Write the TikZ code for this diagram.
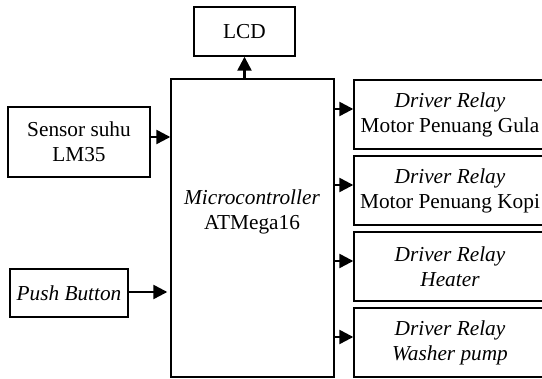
\documentclass[tikz,border=0pt]{standalone}
\usepackage{fontspec}
\setmainfont{Liberation Serif}
\usetikzlibrary{arrows.meta}
\begin{document}
\begin{tikzpicture}[x=1pt,y=-1pt,
  box/.style={draw,line width=1.4pt,rectangle,inner sep=0pt,align=center,
    font=\fontsize{21.3}{25}\selectfont},
  lbl/.style={inner sep=0pt,align=center,font=\fontsize{21.3}{25}\selectfont},
  arr/.style={line width=2.4pt,-{Triangle[length=14pt,width=14pt]}}]
\useasboundingbox (0,0) rectangle (542,379);
\clip (0,0) rectangle (542,379);
\node[box,minimum width=101pt,minimum height=49pt] (lcd) at (244.5,31.5) {LCD};
\node[box,minimum width=163pt,minimum height=298pt] (mcu) at (252.5,228) {};
\node[lbl] (mcutxt) at (252,212) {\textit{Microcontroller}\\ATMega16};
\node[box,minimum width=142pt,minimum height=70pt] (sensor) at (79,142) {Sensor suhu\\LM35};
\node[box,minimum width=118pt,minimum height=48pt] (push) at (69,293) {\textit{Push Button}};
\node[box,minimum width=192pt,minimum height=69pt] (r1) at (450,114.5) {\textit{Driver Relay}\\Motor Penuang Gula};
\node[box,minimum width=192pt,minimum height=69pt] (r2) at (450,190.5) {\textit{Driver Relay}\\Motor Penuang Kopi};
\node[box,minimum width=192pt,minimum height=69pt] (r3) at (450,266.5) {\textit{Driver Relay}\\\textit{Heater}};
\node[box,minimum width=192pt,minimum height=69pt] (r4) at (450,342.5) {\textit{Driver Relay}\\\textit{Washer pump}};
\draw[arr] (mcu.north -| lcd.south) -- (lcd.south);
\coordinate (s1) at ([yshift=5pt]sensor.east);
\draw[arr] (s1) -- (s1 -| mcu.west);
\coordinate (p1) at ([yshift=1pt]push.east);
\draw[arr] (p1) -- ([xshift=-3pt]p1 -| mcu.west);
\foreach \r in {r1,r2,r3,r4}{
  \coordinate (\r a) at ([yshift=5.5pt]\r.west);
  \draw[arr] (\r a -| mcu.east) -- (\r a);
}
\end{tikzpicture}
\end{document}
